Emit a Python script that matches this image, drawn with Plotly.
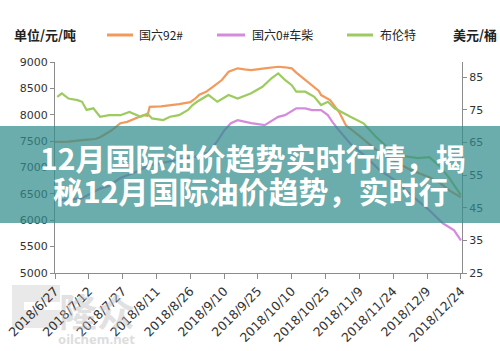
import plotly.graph_objects as go

# ---------------- data ----------------
gas_dates = ["2018-06-27","2018-07-03","2018-07-09","2018-07-15","2018-07-17","2018-07-20","2018-07-22",
             "2018-07-24","2018-07-26","2018-07-29","2018-08-01","2018-08-05","2018-08-07","2018-08-08",
             "2018-08-13","2018-08-17","2018-08-21","2018-08-26","2018-08-28","2018-08-30","2018-09-02",
             "2018-09-05","2018-09-07","2018-09-09","2018-09-12","2018-09-16","2018-09-19","2018-09-22",
             "2018-09-28","2018-10-04","2018-10-07","2018-10-10","2018-10-12","2018-10-15","2018-10-17",
             "2018-10-19","2018-10-22","2018-10-23","2018-10-27","2018-10-31","2018-11-03","2018-11-09",
             "2018-11-16","2018-11-23","2018-11-26","2018-12-02","2018-12-06","2018-12-10","2018-12-15",
             "2018-12-19","2018-12-24"]
gas_vals = [7487,7490,7520,7540,7575,7650,7700,7770,7840,7866,7920,7990,7980,8150,
            8160,8180,8200,8240,8300,8380,8435,8530,8600,8658,8815,8880,8860,8847,
            8880,8910,8900,8880,8800,8695,8640,8562,8450,8373,8280,8050,7800,7600,
            7350,7150,7082,6950,6880,6816,6700,6560,6437]

diesel_dates = ["2018-06-27","2018-07-04","2018-07-09","2018-07-17","2018-07-21","2018-07-26","2018-08-01",
                "2018-08-08","2018-08-15","2018-08-21","2018-08-28","2018-09-03","2018-09-07","2018-09-10",
                "2018-09-13","2018-09-16","2018-09-22","2018-09-28","2018-10-02","2018-10-04","2018-10-07",
                "2018-10-12","2018-10-16","2018-10-19","2018-10-23","2018-10-26","2018-10-28","2018-10-31",
                "2018-11-05","2018-11-12","2018-11-18","2018-11-25","2018-12-03","2018-12-10","2018-12-16",
                "2018-12-21","2018-12-24"]
diesel_vals = [6380,6390,6420,6600,6650,6800,6900,7040,7100,7150,7200,7290,7500,7700,
               7840,7898,7840,7803,7898,7961,7993,8120,8120,8088,8088,7993,7866,7700,
               7450,7200,6949,6750,6437,6190,5943,5810,5620]

brent_dates = ["2018-06-28","2018-06-30","2018-07-03","2018-07-07","2018-07-09","2018-07-11","2018-07-14",
               "2018-07-17","2018-07-21","2018-07-26","2018-07-30","2018-08-04","2018-08-07","2018-08-09",
               "2018-08-14","2018-08-17","2018-08-21","2018-08-25","2018-08-27","2018-08-29","2018-09-03",
               "2018-09-07","2018-09-12","2018-09-16","2018-09-22","2018-09-27","2018-10-01","2018-10-04",
               "2018-10-07","2018-10-10","2018-10-12","2018-10-16","2018-10-20","2018-10-23","2018-10-26",
               "2018-10-29","2018-11-05","2018-11-11","2018-11-16","2018-11-23","2018-11-27","2018-12-05",
               "2018-12-10","2018-12-15","2018-12-19","2018-12-24"]
brent_vals = [79.0,80.1,78.5,78.0,77.5,75.0,75.5,72.9,73.4,73.4,74.4,72.9,73.9,72.4,
              71.9,72.9,73.4,75.0,76.5,77.5,79.6,77.5,79.6,78.5,80.1,82.1,84.7,86.2,
              84.2,82.6,80.6,80.6,79.0,76.5,77.5,75.5,72.9,70.8,67.0,62.5,61.0,60.2,
              60.5,57.5,54.0,48.9]

series_names = ["国六92#", "国六0#车柴", "布伦特"]
series_colors = ["#F29A5C", "#D58BDB", "#9DCB5F"]

tick_dates = ["2018-06-27","2018-07-12","2018-07-27","2018-08-11","2018-08-26","2018-09-10","2018-09-25",
              "2018-10-10","2018-10-25","2018-11-09","2018-11-24","2018-12-09","2018-12-24"]
tick_text = ["2018/6/27","2018/7/12","2018/7/27","2018/8/11","2018/8/26","2018/9/10","2018/9/25",
             "2018/10/10","2018/10/25","2018/11/9","2018/11/24","2018/12/9","2018/12/24"]
left_ticks = [5000,5500,6000,6500,7000,7500,8000,8500,9000]
right_ticks = [25,35,45,55,65,75,85]

left_unit = "单位/元/吨"
right_unit = "美元/桶"
banner_line1 = "12月国际油价趋势实时行情，揭"
banner_line2 = "秘12月国际油价趋势，实时行"

# ---------------- layout helpers ----------------
W, H = 500, 351
L, R, T, B = 55, 462, 62, 273


def px(x):
    return (x - L) / (R - L)


def py(y):
    return (B - y) / (B - T)


fig = go.Figure()
fig.add_trace(go.Scatter(x=gas_dates, y=gas_vals, name=series_names[0], mode="lines",
                         line=dict(color=series_colors[0], width=2.2), yaxis="y"))
fig.add_trace(go.Scatter(x=diesel_dates, y=diesel_vals, name=series_names[1], mode="lines",
                         line=dict(color=series_colors[1], width=2.2), yaxis="y"))
fig.add_trace(go.Scatter(x=brent_dates, y=brent_vals, name=series_names[2], mode="lines",
                         line=dict(color=series_colors[2], width=2.2), yaxis="y2"))

axis_col = "#8c8c8c"
lab_col = "#333333"

shapes = []
annotations = []

# legend
leg_y = py(35)
leg_items = [(107, 133, 137), (217, 245, 250), (347, 373, 378)]
for (x0, x1, tx), name, col in zip(leg_items, series_names, series_colors):
    shapes.append(dict(type="line", xref="paper", yref="paper", x0=px(x0), x1=px(x1), y0=leg_y, y1=leg_y,
                       line=dict(color=col, width=3)))
    annotations.append(dict(text=name, xref="paper", yref="paper", x=px(tx), y=leg_y, xanchor="left",
                            yanchor="middle", showarrow=False,
                            font=dict(size=12, color="#222222", family="Noto Sans CJK SC")))
annotations.append(dict(text="<b>" + left_unit + "</b>", xref="paper", yref="paper", x=px(12), y=leg_y,
                        xanchor="left", yanchor="middle", showarrow=False,
                        font=dict(size=13, color="#222222", family="Noto Sans CJK SC")))
annotations.append(dict(text="<b>" + right_unit + "</b>", xref="paper", yref="paper", x=px(451), y=leg_y,
                        xanchor="left", yanchor="middle", showarrow=False,
                        font=dict(size=13, color="#222222", family="Noto Sans CJK SC")))

# watermark
shapes.append(dict(type="rect", xref="paper", yref="paper", x0=px(12), x1=px(60), y0=py(328), y1=py(285),
                   fillcolor="rgba(215,215,215,0.55)", line=dict(width=0), layer="below"))
shapes.append(dict(type="rect", xref="paper", yref="paper", x0=px(24), x1=px(60), y0=py(310), y1=py(302),
                   fillcolor="white", line=dict(width=0), layer="below"))
annotations.append(dict(text="<b>隆众</b>", xref="paper", yref="paper", x=px(97), y=py(309), xanchor="center",
                        yanchor="middle", showarrow=False, opacity=0.45,
                        font=dict(size=38, color="#bdbdbd", family="Noto Sans CJK SC")))
annotations.append(dict(text="<b>oilchem.net</b>", xref="paper", yref="paper", x=px(96), y=py(339),
                        xanchor="center", yanchor="middle", showarrow=False, opacity=0.5,
                        font=dict(size=13, color="#bdbdbd", family="Noto Sans")))

# banner
shapes.append(dict(type="rect", xref="paper", yref="paper", x0=px(-5), x1=px(505), y0=py(223), y1=py(126),
                   fillcolor="rgba(50,140,140,0.72)", line=dict(width=0), layer="above"))
annotations.append(dict(text="<b>" + banner_line1 + "</b>", xref="paper", yref="paper", x=px(38), y=py(157),
                        xanchor="left", yanchor="middle", showarrow=False,
                        font=dict(size=30, color="white", family="Noto Sans CJK SC")))
annotations.append(dict(text="<b>" + banner_line2 + "</b>", xref="paper", yref="paper", x=px(51), y=py(190),
                        xanchor="left", yanchor="middle", showarrow=False,
                        font=dict(size=30, color="white", family="Noto Sans CJK SC")))

fig.update_layout(
    width=W, height=H,
    margin=dict(l=L, r=W - R, t=T, b=H - B, autoexpand=False),
    paper_bgcolor="white", plot_bgcolor="white",
    showlegend=False,
    font=dict(family="DejaVu Sans", color=lab_col),
    xaxis=dict(type="date", range=["2018-06-27", "2018-12-24 12:00"], tickvals=tick_dates, ticktext=tick_text,
               tickangle=-45, tickfont=dict(size=12.5, color=lab_col), showgrid=False, zeroline=False,
               showline=True, linecolor=axis_col, linewidth=1, ticks="outside", ticklen=5, tickcolor=axis_col),
    yaxis=dict(range=[5000, 9000], tickvals=left_ticks, tickfont=dict(size=11, color=lab_col), showgrid=False,
               zeroline=False, showline=True, linecolor=axis_col, linewidth=1, ticks="outside", ticklen=4,
               tickcolor=axis_col),
    yaxis2=dict(range=[25, 89.7], tickvals=right_ticks, overlaying="y", side="right",
                tickfont=dict(size=11, color=lab_col), showgrid=False, zeroline=False, showline=True,
                linecolor=axis_col, linewidth=1, ticks="outside", ticklen=4, tickcolor=axis_col),
    shapes=shapes,
    annotations=annotations,
)

fig.write_html("out.html")
